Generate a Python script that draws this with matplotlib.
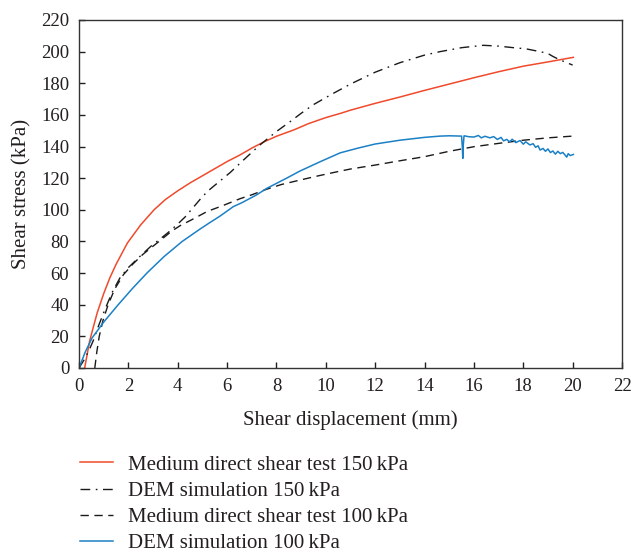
import matplotlib
matplotlib.use("Agg")
import matplotlib.pyplot as plt

# Medium direct shear test 150 kPa
red_x = [0.23, 0.3, 0.43, 0.6, 0.74, 1.0, 1.25, 1.5, 1.96, 2.5, 3.04, 3.5, 4.0, 4.5, 5.0,
         5.5, 6.0, 6.5, 7.0, 7.5, 8.0, 8.7, 9.3, 10.0, 10.6, 11.0, 12.0, 13.0, 14.0,
         15.0, 16.0, 17.0, 18.0, 19.0, 20.03]
red_y = [0, 6, 17, 27, 35, 47, 57, 65.5, 79, 90.5, 100, 106.5, 112, 117, 121.5,
         126, 130.5, 134.5, 139, 143, 146.5, 150.5, 154.5, 158.3, 161, 163, 167.3, 171.3, 175.5,
         179.5, 183.5, 187.3, 190.8, 193.5, 196.4]

# DEM simulation 150 kPa
dem150_x = [0.0, 0.2, 0.4, 0.57, 0.8, 1.05, 1.35, 1.66, 2.0, 2.5, 2.95, 3.2, 3.6, 4.0,
            4.3, 4.9, 5.2, 5.5, 6.12, 6.7, 7.33, 8.0, 8.55, 9.0, 9.5, 10.3, 11.0, 12.0,
            13.0, 14.0, 14.63, 15.5, 16.38, 17.0, 17.6, 18.1, 18.68, 19.0, 19.22, 19.5,
            19.83, 20.0]
dem150_y = [0, 5, 11, 17, 27, 37, 48, 57, 63.5, 71, 77.5, 80.5, 85.5, 91,
            95.5, 106.5, 111.6, 115.5, 123.5, 132, 141, 149.5, 155.7, 161, 166.5, 173.6, 179.5, 187,
            193, 197.8, 200, 202.5, 204, 203.5, 202.5, 201.8, 200, 198.8, 196.8, 194.7,
            192.6, 191.5]

# Medium direct shear test 100 kPa
m100_x = [0.64, 0.72, 0.82, 0.97, 1.18, 1.45, 1.8, 2.2, 2.6, 3.0, 3.4, 3.75, 4.1, 4.6,
          5.2, 5.8, 6.52, 7.0, 7.6, 8.2, 8.95, 9.7, 10.44, 11.0, 12.0, 13.0, 14.0, 15.0,
          16.0, 17.0, 18.0, 19.0, 20.0]
m100_y = [0, 10, 20, 30, 40, 50, 59, 66, 72, 77, 82, 86.5, 90, 94,
          99, 102.5, 107, 109.5, 113, 116, 118.8, 121.5, 124, 125.8, 128.3, 131, 133.6, 137,
          139.9, 142, 144, 145.5, 146.6]

# DEM simulation 100 kPa
dem100_x = [0.0, 0.25, 0.53, 1.0, 1.56, 2.15, 2.75, 3.45, 4.18, 4.9, 5.27, 5.71, 6.25,
            6.6, 7.2, 7.6, 8.41, 8.95, 9.77, 10.58, 11.3, 12.0, 13.0, 14.0, 14.63,
            15.0, 15.5, 15.53, 15.55, 15.57, 15.6, 15.8, 16.0, 16.18, 16.3, 16.45, 16.65,
            16.8, 16.95, 17.1, 17.2, 17.33, 17.45, 17.55, 17.7, 17.87, 18.0, 18.1,
            18.27, 18.4, 18.5, 18.6, 18.68, 18.8, 18.9, 19.0, 19.1, 19.2, 19.3, 19.4,
            19.5, 19.6, 19.7, 19.76, 19.82, 19.9, 20.03]
dem100_y = [0, 10, 19, 29, 39.5, 50, 60, 70.5, 80, 87.8, 91.6, 96, 102,
            104.5, 109.5, 113.5, 120, 124.5, 130.4, 136, 139, 141.6, 144, 145.8, 146.6,
            146.8, 146.6, 140, 132.5, 141, 146.8, 146.2, 146, 147, 145.5, 146.5, 145.5,
            146.3, 144.5, 145.8, 143.6, 144.5, 143, 144.6, 142.5, 143.8, 141.5, 143,
            141, 141.8, 139.5, 140.5, 137.8, 138.8, 137, 138.5, 136.2, 137.2, 135.2, 137,
            135.5, 136.3, 134.5, 133.3, 135.5, 134.3, 135]

labels = ["Medium direct shear test 150\u2009kPa", "DEM simulation 150\u2009kPa",
          "Medium direct shear test 100\u2009kPa", "DEM simulation 100\u2009kPa"]

plt.rcParams['font.family'] = ['Liberation Serif', 'DejaVu Serif']
txt = '#231F20'

fig = plt.figure(figsize=(6.32, 5.55), dpi=100)
ax = fig.add_axes([79/632, 1-368/555, (622-79)/632, (368-20)/555])

l1, = ax.plot(red_x, red_y, color='#F04A2C', lw=1.1)
l2, = ax.plot(dem150_x, dem150_y, color='#1a1a1a', lw=1.0, dashes=(7, 4, 1.2, 4))
l3, = ax.plot(m100_x, m100_y, color='#1a1a1a', lw=1.0, dashes=(6, 4))
l4, = ax.plot(dem100_x, dem100_y, color='#1B80C6', lw=1.1)

ax.set_xlim(0, 22)
ax.set_ylim(0, 220)
ax.set_xticks(range(0, 23, 2))
ax.set_yticks(range(0, 221, 20))
ax.tick_params(direction='in', length=4, width=1, labelsize=13.5, colors=txt,
               top=False, right=False)
ax.tick_params(axis='x', pad=7.5)
ax.tick_params(axis='y', pad=7)
for s in ax.spines.values():
    s.set_linewidth(1.0)
    s.set_color('#333333')
ax.set_xlabel("Shear displacement (mm)", fontsize=15, color=txt, labelpad=10.5)
ax.set_ylabel("Shear stress (kPa)", fontsize=15, color=txt, labelpad=7)

fig.legend([l1, l2, l3, l4], labels, loc='upper left',
           bbox_to_anchor=(80/632, 1-455/555), frameon=False, fontsize=15,
           handlelength=1.6, handletextpad=0.72, labelspacing=0.32,
           labelcolor=txt, borderaxespad=0, borderpad=0)

fig.savefig("out.png", dpi=100)
